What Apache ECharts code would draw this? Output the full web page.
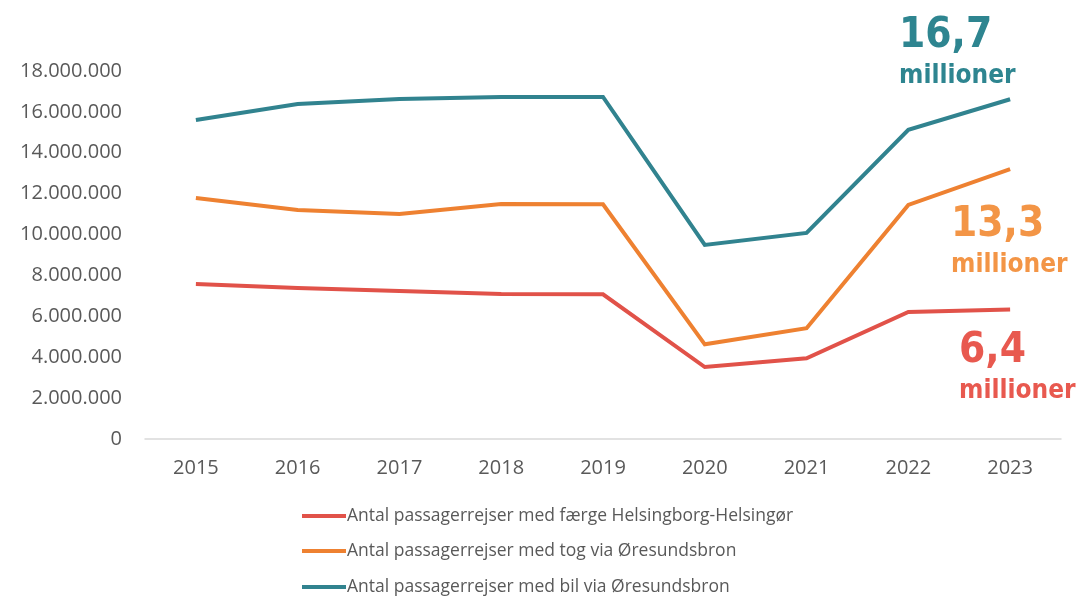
<!DOCTYPE html>
<html lang="da">
<head>
<meta charset="utf-8">
<title>Passagerrejser</title>
<script src="https://cdn.jsdelivr.net/npm/echarts@6.0.0/dist/echarts.min.js"></script>
<style>
  html, body { margin: 0; padding: 0; background: #fff; }
  #chart { width: 1083px; height: 596px; }
</style>
</head>
<body>
<div id="chart"></div>
<script>
var years = ['2015', '2016', '2017', '2018', '2019', '2020', '2021', '2022', '2023'];
var faerge = [7580000, 7390000, 7240000, 7090000, 7080000, 3520000, 3950000, 6210000, 6330000];
var tog = [11790000, 11200000, 11000000, 11500000, 11480000, 4630000, 5420000, 11450000, 13200000];
var bil = [15600000, 16390000, 16630000, 16730000, 16730000, 9490000, 10080000, 15120000, 16620000];
var names = [
  'Antal passagerrejser med færge Helsingborg-Helsingør',
  'Antal passagerrejser med tog via Øresundsbron',
  'Antal passagerrejser med bil via Øresundsbron'
];
var colors = ['#E15249', '#EE8131', '#31838F'];

var chart = echarts.init(document.getElementById('chart'));

function fmt(v) {
  return String(v).replace(/\B(?=(\d{3})+(?!\d))/g, '.');
}

function mkSeries(i, data) {
  return {
    name: names[i],
    type: 'line',
    data: data,
    symbol: 'none',
    lineStyle: { width: 4, color: colors[i], join: 'miter' },
    itemStyle: { color: colors[i] }
  };
}

// one legend per row so the rows keep the reference spacing
function mkLegend(i, top) {
  return {
    left: 302,
    top: top,
    padding: 0,
    itemWidth: 44,
    itemHeight: 4,
    icon: 'rect',
    data: [names[i]],
    textStyle: { color: '#595959', fontSize: 17.5, padding: [0, 0, 0, -4] }
  };
}

function note(x, y, big, color) {
  return [
    { type: 'text', left: x, top: y, style: { text: big, fill: color, font: 'bold 42px "DejaVu Sans Condensed", "Noto Sans"' } },
    { type: 'text', left: x, top: y + 48, style: { text: 'millioner', fill: color, font: 'bold 26px "DejaVu Sans Condensed", "Noto Sans"' } }
  ];
}

chart.setOption({
  animation: false,
  textStyle: { fontFamily: '"Open Sans", Lato, sans-serif' },
  grid: { left: 145, right: 22, top: 71, bottom: 157 },
  xAxis: {
    type: 'category',
    data: years,
    axisLine: { lineStyle: { color: '#d9d9d9', width: 1.5 } },
    axisTick: { show: false },
    axisLabel: { color: '#595959', fontSize: 20, margin: 19 }
  },
  yAxis: {
    type: 'value',
    min: 0,
    max: 18000000,
    interval: 2000000,
    splitLine: { show: false },
    axisLine: { show: false },
    axisTick: { show: false },
    axisLabel: { color: '#595959', fontSize: 20, margin: 23, formatter: fmt }
  },
  legend: [mkLegend(0, 507), mkLegend(1, 542), mkLegend(2, 578)],
  series: [mkSeries(0, faerge), mkSeries(1, tog), mkSeries(2, bil)],
  graphic: [].concat(
    note(899, 15, '16,7', '#2E8590'),
    note(951, 204, '13,3', '#F39546'),
    note(959, 330, '6,4', '#E8594F')
  )
});
</script>
</body>
</html>
